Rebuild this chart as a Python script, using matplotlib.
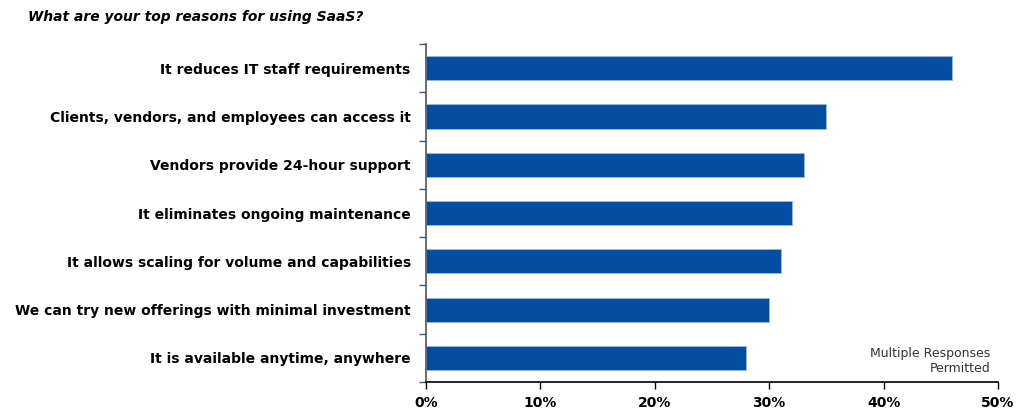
import matplotlib
matplotlib.use("Agg")
import matplotlib.pyplot as plt
import numpy as np

razones = [
    "It reduces IT staff requirements",
    "Clients, vendors, and employees can access it",
    "Vendors provide 24-hour support",
    "It eliminates ongoing maintenance",
    "It allows scaling for volume and capabilities",
    "We can try new offerings with minimal investment",
    "It is available anytime, anywhere",
]
porcentajes = [46, 35, 33, 32, 31, 30, 28]
ticks_x = [0, 10, 20, 30, 40, 50]

azul = "#034EA2"
gris = "#555555"

fig = plt.figure(figsize=(10.21, 4.12), dpi=100)
ax = fig.add_axes([0.4172, 0.0728, 0.5603, 0.8202])

pos = np.arange(len(razones))[::-1]
ax.barh(pos, porcentajes, height=0.5, color=azul, edgecolor="#9DB9DD", linewidth=0.6)

ax.set_xlim(0, 50)
ax.set_ylim(-0.5, len(razones) - 0.5)
ax.set_xticks(ticks_x)
ax.set_xticklabels([f"{t}%" for t in ticks_x], fontsize=10, fontweight="bold")
ax.set_yticks(pos)
ax.set_yticklabels(razones, fontsize=10, fontweight="bold")
ax.set_yticks(np.arange(-0.5, len(razones)), minor=True)
ax.tick_params(axis="y", which="major", length=0, pad=11)
ax.tick_params(axis="y", which="minor", length=5, color=gris, width=1, direction="out")
ax.tick_params(axis="x", length=5, color="black", width=1, pad=5)

for s in ["top", "right"]:
    ax.spines[s].set_visible(False)
ax.spines["left"].set_color(gris)
ax.spines["left"].set_linewidth(1.2)
ax.spines["bottom"].set_color("black")
ax.spines["bottom"].set_linewidth(1.2)

fig.text(0.027, 0.958, "What are your top reasons for using SaaS?", fontsize=10,
         fontweight="bold", fontstyle="italic", va="center", ha="left")
fig.text(0.97, 0.125, "Multiple Responses\nPermitted", fontsize=9, color="#333333",
         ha="right", va="center", linespacing=1.2)

fig.savefig("out.png", dpi=100)
